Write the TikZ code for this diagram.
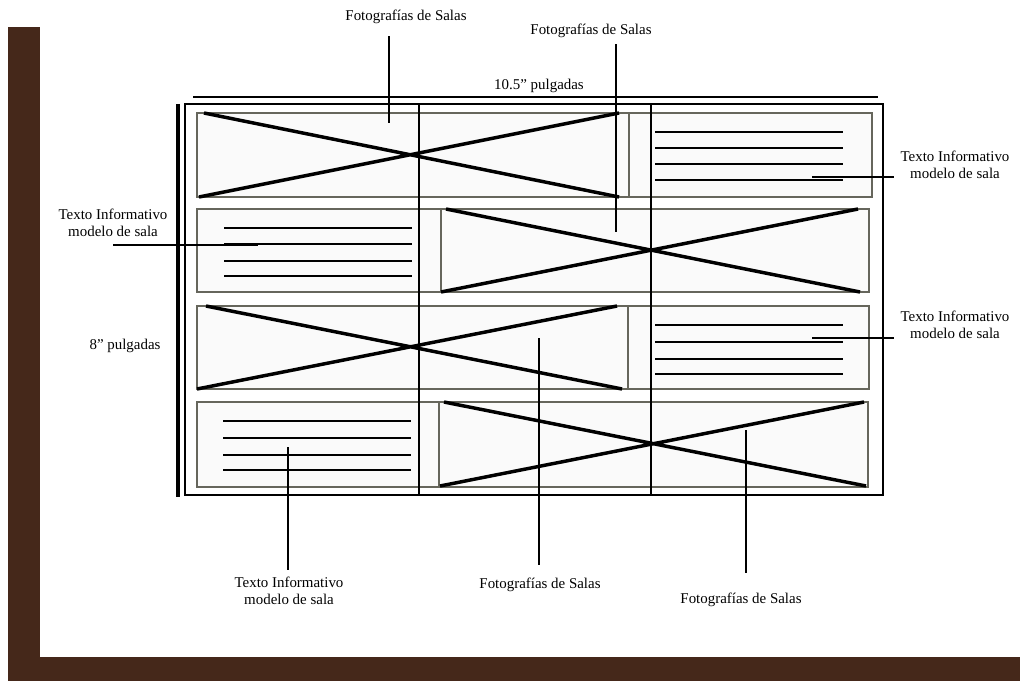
\documentclass[tikz,border=0pt]{standalone}
\usepackage{fontspec}
\setmainfont{Liberation Serif}
\usepackage{xcolor}
\definecolor{marco}{HTML}{45281A}
\definecolor{borde}{HTML}{66665C}
\colorlet{relleno}{black!2}

\begin{document}
\begin{tikzpicture}[x=0.75pt,y=-0.75pt,
	caja/.style={draw=borde,line width=0.8pt,fill=relleno},
	cruz/.style={line width=2.6pt},
	renglon/.style={line width=1.2pt},
	guia/.style={line width=2.1pt},
	rotulo/.style={font=\fontsize{11.2}{12.6}\selectfont,align=center,inner sep=0pt}]
	\useasboundingbox[fill=white] (0,0) rectangle (1020,681);
	
	% marco
	\fill[marco] (8,27) rectangle (40,681);
	\fill[marco] (8,657) rectangle (1020,681);
	
	% cotas
	\draw[line width=2pt] (193,97) -- (878,97);
	\draw[line width=2.3pt] (178,104) -- (178,497);
	\draw[line width=1pt] (185,104) rectangle (883,495);
	
	% filas
	\draw[caja] (197,113) rectangle (872,197);
	\draw[caja] (197,209) rectangle (869,292);
	\draw[caja] (197,306) rectangle (869,389);
	\draw[caja] (197,402) rectangle (868,487);
	\draw[borde,line width=0.8pt] (629,113) -- (629,197);
	\draw[borde,line width=0.8pt] (441,209) -- (441,292);
	\draw[borde,line width=0.8pt] (628,306) -- (628,389);
	\draw[borde,line width=0.8pt] (439,402) -- (439,487);
	
	% columnas
	\draw[line width=1.1pt] (419,104) -- (419,495);
	\draw[line width=1.1pt] (651,104) -- (651,495);
	
	% fotos
	\draw[cruz] (204,113) -- (619,197) (199,197) -- (619,113);
	\draw[cruz] (446,209) -- (860,292) (441,292) -- (858,209);
	\draw[cruz] (206,306) -- (622,389) (197,389) -- (617,306);
	\draw[cruz] (444,402) -- (866,486) (440,486) -- (864,402);
	
	% renglones de texto
	\foreach \y in {132,148,164,180} \draw[renglon] (655,\y) -- (843,\y);
	\foreach \y in {228,244,261,276} \draw[renglon] (224,\y) -- (412,\y);
	\foreach \y in {325,342,359,374} \draw[renglon] (655,\y) -- (843,\y);
	\foreach \y in {421,438,455,470} \draw[renglon] (223,\y) -- (411,\y);
	
	% rotulos
	\node[rotulo] (foto1) at (406,17) {Fotografías de Salas};
	\node[rotulo] (foto2) at (591,31) {Fotografías de Salas};
	\node[rotulo] (ancho) at (539,86) {10.5” pulgadas};
	\node[rotulo] (alto) at (125,346) {8” pulgadas};
	\node[rotulo] (texto1) at (955,165) {Texto Informativo\\modelo de sala};
	\node[rotulo] (texto2) at (113,223) {Texto Informativo\\modelo de sala};
	\node[rotulo] (texto3) at (955,325) {Texto Informativo\\modelo de sala};
	\node[rotulo] (texto4) at (289,591) {Texto Informativo\\modelo de sala};
	\node[rotulo] (foto3) at (540,585) {Fotografías de Salas};
	\node[rotulo] (foto4) at (741,600) {Fotografías de Salas};
	
	% guias
	\coordinate (p1) at (389,123);
	\coordinate (p2) at (616,232);
	\coordinate (p3) at (812,177);
	\coordinate (p4) at (258,245);
	\coordinate (p5) at (812,338);
	\coordinate (p6) at (288,447);
	\coordinate (p7) at (539,338);
	\coordinate (p8) at (746,430);
	\draw[guia,shorten <=9pt] (foto1.south -| p1) -- (p1);
	\draw[guia,shorten <=4.5pt] (foto2.south -| p2) -- (p2);
	\draw[guia,shorten >=5pt] (p3) -- (texto1.west |- p3);
	\draw[guia] (texto2.south |- p4) -- (p4);
	\draw[guia,shorten >=5pt] (p5) -- (texto3.west |- p5);
	\draw[guia,shorten >=5pt] (p6) -- (p6 |- texto4.north);
	\draw[guia,shorten >=9.5pt] (p7) -- (p7 |- foto3.north);
	\draw[guia,shorten >=15pt] (p8) -- (p8 |- foto4.north);
\end{tikzpicture}
\end{document}
